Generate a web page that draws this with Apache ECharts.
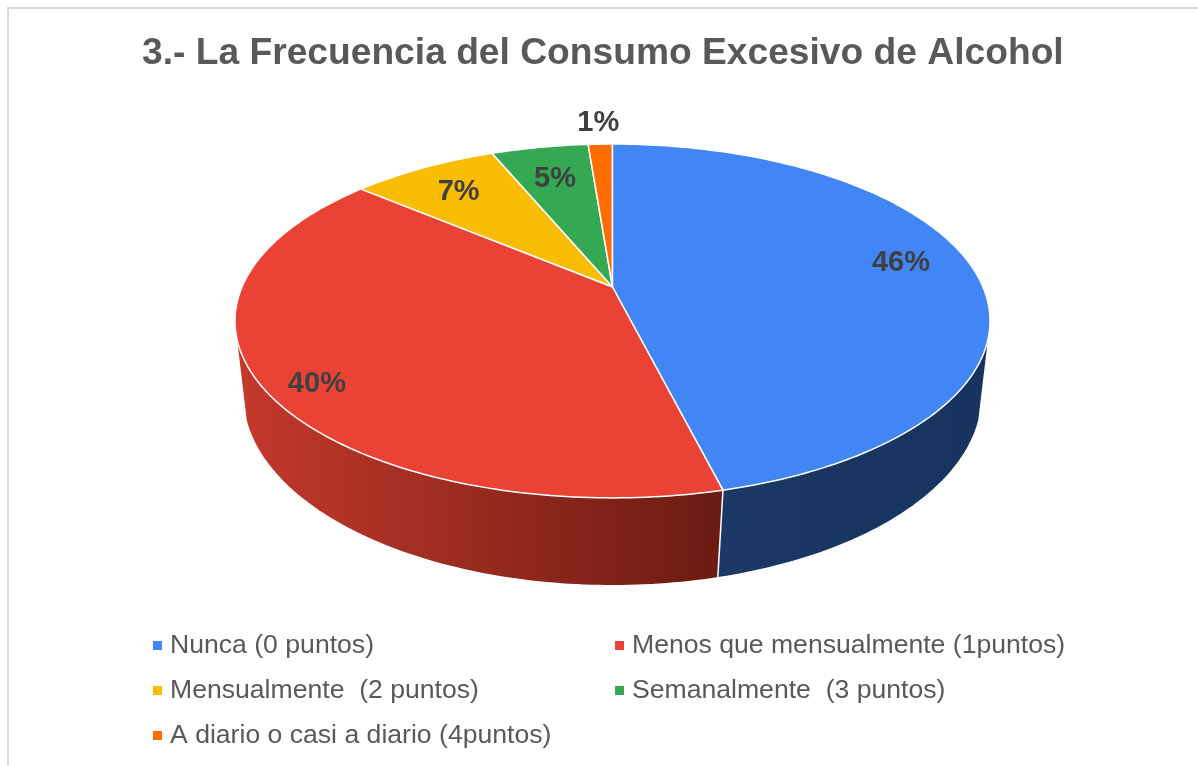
<!DOCTYPE html>
<html><head><meta charset="utf-8">
<style>html,body{margin:0;padding:0;background:#fff}#c{width:1198px;height:766px}</style>
<script src="https://cdn.jsdelivr.net/npm/echarts@6/dist/echarts.min.js"></script>
</head><body><div id="c"></div>
<script>
var titleText = '3.- La Frecuencia del Consumo Excesivo de Alcohol';
var categories = ['Nunca (0 puntos)','Menos que mensualmente (1puntos)','Mensualmente  (2 puntos)','Semanalmente  (3 puntos)','A diario o casi a diario (4puntos)'];
var shares = [46.1, 40.07, 7.58, 5.0, 1.25];
var shareLabels = ['46%','40%','7%','5%','1%'];
var colors = ['#4285f4','#ea4335','#fbbc04','#34a853','#ff6d01'];

var total = shares.reduce(function(a,b){return a+b;},0);
var topPlane = {cx:612.5, a:115.3, b:287, c:-0.192, A:370.5};
var basePlane = {cx:612.5, a:124, b:363.3, c:-0.167, A:363.8};
function project(pl, deg, r){
  var t = deg*Math.PI/180, u = r*Math.sin(t), v = -r*Math.cos(t), w = 1+pl.c*v;
  return [pl.cx + pl.A*u/w, (pl.a*v+pl.b)/w];
}
function arc(pl, d0, d1){
  var pts=[], n=Math.max(2,Math.ceil(Math.abs(d1-d0)));
  for(var i=0;i<=n;i++) pts.push(project(pl, d0+(d1-d0)*i/n, 1));
  return pts;
}
var labelRadius = [0.817,0.879,0.79,0.758,1.2];
var labelAngleShift = [-4,-3,0,0,0];
var wallFrom = 107, wallTo = 253;
var wallFill = [
  new echarts.graphic.LinearGradient(720,0,990,0,[{offset:0,color:'#1b3866'},{offset:1,color:'#17345f'}],true),
  new echarts.graphic.LinearGradient(236,0,722,0,[{offset:0,color:'#c5392c'},{offset:1,color:'#6a1b12'}],true)
];
function makeRender(idx){
  return function(params, api){
    var val = api.value(0), start = 0;
    for(var i=0;i<idx;i++) start += shares[i];
    var d0 = start/total*360, d1 = d0 + val/total*360;
    var children = [];
    var w0 = Math.max(d0,wallFrom), w1 = Math.min(d1,wallTo);
    if(w1>w0){
      var tp = arc(topPlane,w0,w1), bp = arc(basePlane,w0,w1).reverse();
      children.push({type:'polygon',z2:1,shape:{points:tp.concat(bp)},style:{fill:wallFill[idx]||colors[idx]}});
      if(d0>=wallFrom&&d0<=wallTo){
        var a0 = project(topPlane,d0,1), b0 = project(basePlane,d0,1);
        children.push({type:'line',z2:2,shape:{x1:a0[0],y1:a0[1],x2:b0[0],y2:b0[1]},style:{stroke:'#fff',lineWidth:1.5}});
      }
    }
    var top = [project(topPlane,0,0)].concat(arc(topPlane,d0,d1));
    children.push({type:'polygon',z2:3,shape:{points:top},style:{fill:colors[idx],stroke:'#fff',lineWidth:1.5,lineJoin:'round'}});
    var m = (d0+d1)/2 + labelAngleShift[idx], lp = project(topPlane,m,labelRadius[idx]);
    children.push({type:'text',z2:5,style:{x:lp[0],y:lp[1]+2,text:shareLabels[idx],fill:'#404040',font:'bold 29px "Liberation Sans", Arial, sans-serif',align:'center',verticalAlign:'middle'}});
    return {type:'group',children:children};
  };
}
var legendLeft = [153,615,153,615,153];
var legendTop = [632,632,677,677,722];
var option = {
  animation:false,
  backgroundColor:'#fff',
  title:{text:titleText,left:142,top:35,padding:0,textStyle:{fontFamily:'"Liberation Sans", Arial, sans-serif',fontWeight:'bold',fontSize:37.2,color:'#595959'}},
  legend:categories.map(function(n,i){return {
    data:[n],left:legendLeft[i],top:legendTop[i],padding:0,icon:'rect',itemWidth:9,itemHeight:9,selectedMode:false,
    textStyle:{fontFamily:'"Liberation Sans", Arial, sans-serif',fontSize:26.6,color:'#595959',padding:[0,0,0,3]}
  };}),
  graphic:[{type:'rect',silent:true,z:-1,shape:{x:8,y:8,width:1300,height:900},style:{fill:'#fff',stroke:'#d9d9d9',lineWidth:2}}],
  series:categories.map(function(n,i){return {
    type:'custom',name:n,coordinateSystem:'none',z:(i<2?3:2),
    itemStyle:{color:colors[i]},
    renderItem:makeRender(i),
    data:[[shares[i]]]
  };})
};
echarts.init(document.getElementById('c'),null,{renderer:'canvas'}).setOption(option);
</script></body></html>
